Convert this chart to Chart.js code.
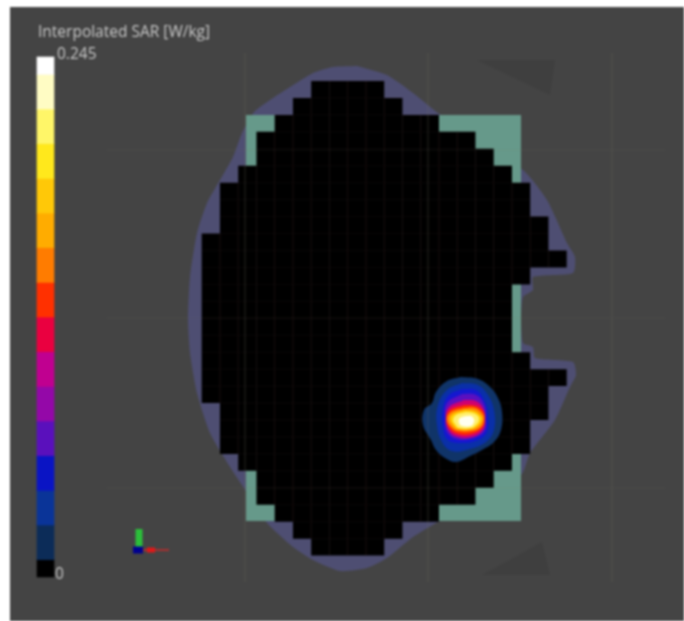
<!DOCTYPE html>
<html>
<head>
<meta charset="utf-8">
<script src="https://cdn.jsdelivr.net/npm/chart.js@4"></script>
<style>
  html, body { margin: 0; padding: 0; background: #fff; overflow: hidden; }
  canvas { display: block; filter: blur(0.8px); }
</style>
</head>
<body>
<canvas id="sarChart" width="684" height="621"></canvas>
<script>
// texts
const barTitle = 'Interpolated SAR [W/kg]';
const barTickLabels = ['0.245', '0'];

// color bar : edges of each level (W/kg) and its color, bottom to top
const barEdges = [0, 0.0082, 0.0245, 0.0408, 0.0572, 0.0735, 0.0898, 0.1062, 0.1225, 0.1388, 0.1552, 0.1715, 0.1878, 0.2042, 0.2205, 0.2368, 0.245];
const barColors = ['#000000', '#0c2c58', '#0a3498', '#0a14c4', '#5a10bc', '#9408a8', '#c00090', '#ea0040', '#ff3000', '#ff7c00', '#ffac00', '#ffc808', '#ffe81c', '#fff668', '#fffcc4', '#ffffff'];

// measurement grid : first and last column of each row of the scanned area
const rowStart = [6, 5, 4, 3, 3, 2, 1, 1, 1, 0, 0, 0, 0, 0, 0, 0, 0, 0, 0, 1, 1, 1, 2, 3, 3, 4, 5, 6];
const rowEnd = [10, 11, 13, 15, 16, 17, 18, 18, 19, 19, 20, 18, 17, 17, 17, 17, 18, 20, 19, 19, 18, 18, 17, 16, 15, 13, 11, 10];

// outlines, in picture units
const bodyOutline = [[357,66],[387,75],[413,93],[438,113],[523,170],[547,200],[567,243],[575,257],[573,273],[533,277],[533,290],[523,297],[521,320],[523,343],[533,347],[535,358],[573,362],[576,375],[570,387],[555,420],[530,453],[521,475],[438,522],[413,537],[387,558],[367,568],[340,571],[313,560],[293,547],[267,523],[250,497],[230,467],[210,433],[197,393],[190,353],[188,320],[190,277],[197,233],[207,203],[220,180],[233,157],[242,133],[254,112],[270,100],[290,87],[313,73],[333,67]];
const phantomBox = [[246,115],[521,115],[521,521],[246,521]];
const shadowTop = [[477,60],[555,60],[550,95],[523,82]];
const shadowBottom = [[482,575],[550,575],[542,542],[510,560]];

// SAR hot spot contours, outer to inner
const contourColors = ['#103468', '#0a30a8', '#1418d0', '#5a10c0', '#d00070', '#ff2c00', '#ff8c00', '#ffd000', '#fff070', '#fffff0'];
const contours = [
  [[461,377],[478,379],[490,387],[498,398],[502,412],[501,430],[494,442],[482,450],[470,456],[456,462],[445,458],[436,450],[431,440],[423,425],[424,410],[432,403],[436,392],[447,381]],
  [[462,383],[478,385],[488,395],[494,410],[494,430],[486,442],[470,449],[452,451],[442,442],[437,425],[438,405],[447,390]],
  [[462,389],[476,390],[484,400],[488,415],[487,432],[478,440],[462,443],[448,440],[443,428],[443,408],[449,395]],
  [[462,394],[476,395],[484,404],[486,418],[484,432],[470,439],[456,439],[447,432],[445,418],[447,403]],
  [[464,400],[476,401],[483,408],[485,418],[483,430],[472,437],[458,437],[449,431],[446,418],[449,407]],
  [[464,405],[476,406],[483,411],[485,419],[482,428],[472,434],[458,434],[450,429],[446,419],[450,410]],
  [[464,408],[475,408],[482,413],[484,419],[481,427],[472,431],[458,431],[451,427],[447,419],[451,412]],
  [[465,410],[474,411],[480,415],[482,419],[479,425],[472,429],[458,429],[453,425],[450,419],[453,414]],
  [[466,412],[473,413],[478,416],[479,420],[477,424],[471,428],[459,428],[455,424],[453,420],[456,415]],
  [[466,416],[471,416],[474,419],[474,422],[471,426],[462,426],[459,423],[459,419],[462,417]]
];

// faint scan lines
const scanRowsY = [150, 318, 488];
const scanColsX = [245, 428, 612];

// orientation triad
const triadGreen = [[139,547],[139,529]];
const triadBlue = [[133,550],[143,550]];
const triadRedLine = [[143,550],[169,550]];
const triadRedHead = [[147,550],[155,550]];

const toPoints = pts => pts.map(p => ({ x: p[0], y: p[1] }));

function shape(pts, color, tension) {
  const data = toPoints(pts);
  data.push(data[0]);
  return { type: 'scatter', data, showLine: true, fill: 'shape', backgroundColor: color, borderWidth: 0, pointRadius: 0, tension: tension || 0 };
}

function stroke(data, color, width, extra) {
  return Object.assign({ type: 'scatter', data, showLine: true, borderColor: color, borderWidth: width, pointRadius: 0, fill: false }, extra);
}

// stepped outline of the scanned area, in cell units
function gridOutline() {
  const pts = [];
  rowEnd.forEach((c, r) => { pts.push([c, r], [c, r + 1]); });
  for (let r = rowStart.length - 1; r >= 0; r--) pts.push([rowStart[r], r + 1], [rowStart[r], r]);
  return pts;
}

// cell lines inside the scanned area
function gridLines() {
  const out = [];
  rowStart.forEach((s, r) => {
    out.push({ x: s, y: r }, { x: rowEnd[r], y: r }, { x: null, y: null });
    for (let c = s + 1; c < rowEnd[r]; c++) {
      out.push({ x: c, y: r }, { x: c, y: r + 1 }, { x: null, y: null });
    }
  });
  return out;
}

const cellAxes = { xAxisID: 'xCell', yAxisID: 'yCell' };
const scanLines = [];
scanRowsY.forEach(y => scanLines.push({ x: 107, y }, { x: 665, y }, { x: null, y: null }));
scanColsX.forEach(x => scanLines.push({ x, y: 53 }, { x, y: 582 }, { x: null, y: null }));

// back to front
const layers = [
  shape(shadowTop, '#3f3f3f'),
  shape(shadowBottom, '#3f3f3f'),
  shape(bodyOutline, '#4e4e72', 0.2),
  shape(phantomBox, '#66998a'),
  Object.assign(shape(gridOutline(), '#000000'), cellAxes),
  stroke(gridLines(), 'rgba(70,50,50,0.14)', 1, cellAxes),
  ...contours.map((c, i) => shape(c, contourColors[i], 0.4)),
  stroke(scanLines, 'rgba(120,112,95,0.12)', 1),
  stroke(toPoints(triadRedLine), '#a83030', 2),
  stroke(toPoints(triadRedHead), '#e01818', 5),
  stroke(toPoints(triadGreen), '#2bbf3a', 7),
  stroke(toPoints(triadBlue), '#000090', 7),
  {
    type: 'bar',
    yAxisID: 'yBar',
    data: barColors.map((c, i) => ({ x: 54, y: [barEdges[i], barEdges[i + 1]] })),
    backgroundColor: barColors,
    barThickness: 17
  }
];
layers.forEach((d, i) => { d.order = layers.length - i; });

const backdrop = {
  id: 'backdrop',
  beforeDraw(chart) {
    const a = chart.chartArea;
    chart.ctx.fillStyle = '#444444';
    chart.ctx.fillRect(a.left, a.top, a.right - a.left, a.bottom - a.top);
  }
};

const barLabels = {
  id: 'barLabels',
  afterDraw(chart) {
    const ctx = chart.ctx;
    const yBar = chart.scales.yBar;
    ctx.save();
    ctx.textBaseline = 'middle';
    ctx.fillStyle = '#c8c8c8';
    ctx.font = '15.5px "Open Sans"';
    ctx.fillText(barTitle, 38, 33);
    ctx.fillText(barTickLabels[0], 57, yBar.getPixelForValue(0.245) - 2);
    ctx.fillText(barTickLabels[1], 55, yBar.getPixelForValue(0) - 2);
    ctx.restore();
  }
};

const hidden = (min, max, reverse) => ({ type: 'linear', display: false, min, max, reverse: !!reverse, offset: false });

new Chart(document.getElementById('sarChart'), {
  type: 'scatter',
  data: { datasets: layers },
  plugins: [backdrop, barLabels],
  options: {
    responsive: false,
    animation: false,
    layout: { padding: { left: 10, top: 7 } },
    plugins: { legend: { display: false }, tooltip: { enabled: false } },
    scales: {
      x: hidden(10, 684),
      y: hidden(7, 621, true),
      xCell: hidden(-10.504, 26.427),
      yCell: hidden(-4.366, 31.858, true),
      yBar: hidden(-0.02073, 0.26856)
    }
  }
});
</script>
</body>
</html>
